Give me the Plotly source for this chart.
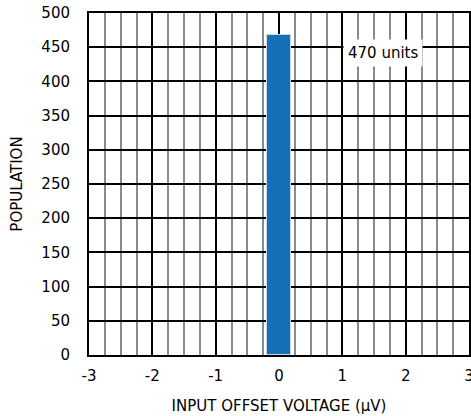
import plotly.graph_objects as go

# Data
offset_uV = [0.0]
population = [468]
bar_width = [0.39]
x_ticks = [-3, -2, -1, 0, 1, 2, 3]
y_ticks = [0, 50, 100, 150, 200, 250, 300, 350, 400, 450, 500]
label_text = "470 units"

FONT = "DejaVu Sans"

fig = go.Figure()
fig.add_trace(go.Bar(
    x=offset_uV, y=population, width=bar_width,
    marker=dict(color="#1670b8", line=dict(color="#c8d8e8", width=1)),
    showlegend=False,
))

fig.add_annotation(
    x=1.64, y=442, xref="x", yref="y", text=label_text, showarrow=False,
    bgcolor="white", font=dict(family=FONT, size=15, color="black"),
    borderpad=4,
)

fig.update_layout(
    width=471, height=416,
    margin=dict(l=89, r=2, t=13, b=61),
    paper_bgcolor="white", plot_bgcolor="white",
    font=dict(family=FONT, size=15, color="black"),
    bargap=0,
)

fig.update_xaxes(
    range=[-3, 3], tickvals=x_ticks, ticktext=[str(v) for v in x_ticks],
    showgrid=True, gridcolor="black", gridwidth=1.5, dtick=0.5,
    minor=dict(dtick=0.25, showgrid=True, gridcolor="#8a8a8a", gridwidth=1.5),
    showline=True, linecolor="black", linewidth=2, mirror=True,
    zeroline=False, ticks="", ticklabelstandoff=6, ticklabeloverflow="allow",
    automargin=False,
    title=dict(text="INPUT OFFSET VOLTAGE (µV)", font=dict(size=15), standoff=16),
)
fig.update_yaxes(
    range=[0, 500], tickvals=y_ticks,
    showgrid=True, gridcolor="black", gridwidth=1.5,
    showline=True, linecolor="black", linewidth=2, mirror=True,
    zeroline=False, ticks="", ticklabelstandoff=14, automargin=False,
    title=dict(text="POPULATION", font=dict(size=15), standoff=15),
)

fig.write_html("out.html")
